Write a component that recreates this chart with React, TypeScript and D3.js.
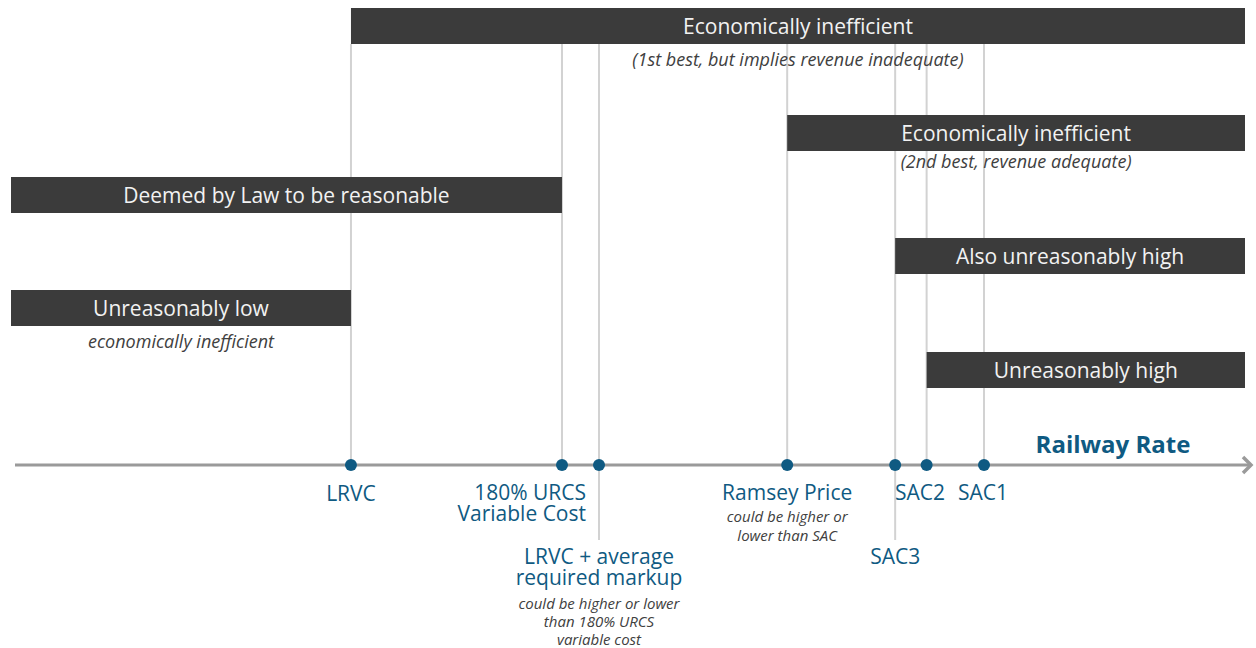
import * as d3 from "d3";

// rate points along the axis (arbitrary 0-100 scale)
const points = ["LRVC", "180% URCS", "LRVC + avg", "Ramsey", "SAC3", "SAC2", "SAC1"];
const pointValues = [27.55, 44.65, 47.65, 62.9, 71.65, 74.2, 78.85];

const bandTitles = [
  "Economically inefficient",
  "Economically inefficient",
  "Deemed by Law to be reasonable",
  "Also unreasonably high",
  "Unreasonably low",
  "Unreasonably high",
];
const bandNotes = [
  "(1st best, but implies revenue inadequate)",
  "(2nd best, revenue adequate)",
  "",
  "",
  "economically inefficient",
  "",
];
const bandFrom = [27.55, 62.9, 0, 71.65, 0, 74.2];
const bandTo = [100, 100, 44.65, 100, 27.55, 100];

const W = 1256;
const H = 648;
const axisY = 465;
const bandTop = [8, 115, 177, 238, 290, 352];
const noteGap = [22, 17, 22, 22, 22, 22];
const bandH = 36;
const blue = "#0f5a82";
const font = "'Open Sans', sans-serif";

export default function App() {
  const x = d3.scaleLinear().domain([0, 100]).range([11, 1245]);
  // which lines continue below the axis
  const longLine = [false, false, true, false, true, false, false];

  return (
    <svg width={W} height={H} style={{ position: "absolute", left: 0, top: 0 }} fontFamily={font}>
      <rect width={W} height={H} fill="#fff" />
      {pointValues.map((v, i) => (
        <line
          key={points[i]}
          x1={x(v)}
          x2={x(v)}
          y1={44}
          y2={longLine[i] ? 540 : axisY}
          stroke="#d2d2d2"
          strokeWidth={2}
        />
      ))}
      {bandTitles.map((t, i) => {
        const x0 = x(bandFrom[i]);
        const x1 = x(bandTo[i]);
        const cx = (x0 + x1) / 2;
        return (
          <g key={i}>
            <rect x={x0} y={bandTop[i]} width={x1 - x0} height={bandH} fill="#3b3b3b" />
            <text x={cx} y={bandTop[i] + bandH / 2 + 7.5} textAnchor="middle" fill="#f2f2f2" fontSize={21}>
              {t}
            </text>
            {bandNotes[i] && (
              <text
                x={cx}
                y={bandTop[i] + bandH + noteGap[i]}
                textAnchor="middle"
                fill="#404040"
                fontSize={18}
                fontStyle="italic"
              >
                {bandNotes[i]}
              </text>
            )}
          </g>
        );
      })}
      <line x1={15} x2={1250} y1={axisY} y2={axisY} stroke="#9a9a9a" strokeWidth={3} />
      <polyline
        points={`1243,${axisY - 8} 1251,${axisY} 1243,${axisY + 8}`}
        fill="none"
        stroke="#9a9a9a"
        strokeWidth={3.5}
      />
      <text x={1113} y={453} textAnchor="middle" fill={blue} fontSize={24} fontWeight="bold">
        Railway Rate
      </text>
      {pointValues.map((v, i) => (
        <circle key={points[i]} cx={x(v)} cy={axisY} r={6} fill={blue} />
      ))}
      <g fill={blue} fontSize={21}>
        <text x={x(pointValues[0])} y={501} textAnchor="middle">LRVC</text>
        <text x={586} y={500} textAnchor="end">180% URCS</text>
        <text x={586} y={521} textAnchor="end">Variable Cost</text>
        <text x={x(pointValues[2])} y={564} textAnchor="middle">LRVC + average</text>
        <text x={x(pointValues[2])} y={585} textAnchor="middle">required markup</text>
        <text x={x(pointValues[3])} y={500} textAnchor="middle">Ramsey Price</text>
        <text x={x(pointValues[4])} y={564} textAnchor="middle">SAC3</text>
        <text x={920} y={500} textAnchor="middle">SAC2</text>
        <text x={983} y={500} textAnchor="middle">SAC1</text>
      </g>
      <g fill="#404040" fontSize={15} fontStyle="italic" textAnchor="middle">
        <text x={x(pointValues[2])} y={609}>could be higher or lower</text>
        <text x={x(pointValues[2])} y={627}>than 180% URCS</text>
        <text x={x(pointValues[2])} y={645}>variable cost</text>
        <text x={x(pointValues[3])} y={522}>could be higher or</text>
        <text x={x(pointValues[3])} y={541}>lower than SAC</text>
      </g>
    </svg>
  );
}
